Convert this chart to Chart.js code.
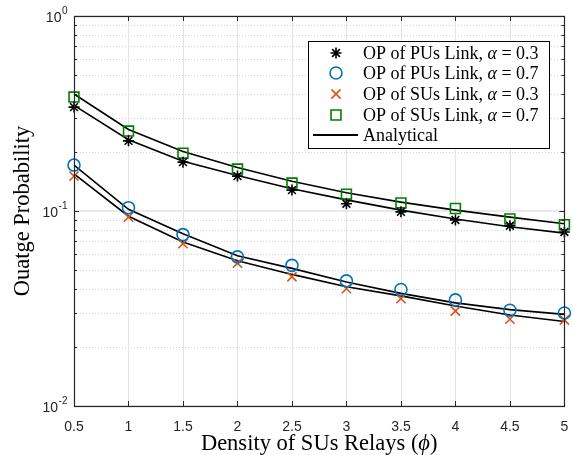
<!DOCTYPE html>
<html>
<head>
<meta charset="utf-8">
<script src="https://cdn.jsdelivr.net/npm/chart.js@4"></script>
<style>
  html, body { margin: 0; padding: 0; background: #fff; }
  #wrap { width: 573px; height: 455px; }
</style>
</head>
<body>
<div id="wrap"><canvas id="op" width="573" height="455"></canvas></div>
<script>
// Relay density (phi) sampled at these points
const phi = [0.5, 1, 1.5, 2, 2.5, 3, 3.5, 4, 4.5, 5]
const xTickLabels = ["0.5", "1", "1.5", "2", "2.5", "3", "3.5", "4", "4.5", "5"]
const yDecades = [0.01, 0.1, 1]
const yDecadeExp = ["-2", "-1", "0"]

// Simulated outage probability (markers)
const simPU03 = [0.341, 0.229, 0.178, 0.151, 0.128, 0.109, 0.099, 0.090, 0.084, 0.078]
const simPU07 = [0.172, 0.104, 0.0757, 0.0582, 0.0526, 0.0438, 0.0396, 0.0350, 0.0310, 0.0300]
const simSU03 = [0.151, 0.093, 0.068, 0.054, 0.046, 0.040, 0.0355, 0.0307, 0.0279, 0.0276]
const simSU07 = [0.384, 0.257, 0.198, 0.164, 0.139, 0.122, 0.110, 0.103, 0.091, 0.085]

// Analytical curves
const anaPU03 = [0.348, 0.232, 0.180, 0.152, 0.130, 0.114, 0.101, 0.091, 0.083, 0.077]
const anaPU07 = [0.172, 0.102, 0.0765, 0.059, 0.0508, 0.0432, 0.0378, 0.0338, 0.0312, 0.0295]
const anaSU03 = [0.155, 0.094, 0.0694, 0.0556, 0.0473, 0.0409, 0.0367, 0.0326, 0.0293, 0.0271]
const anaSU07 = [0.398, 0.262, 0.202, 0.167, 0.142, 0.124, 0.111, 0.101, 0.093, 0.086]

const pts = ys => phi.map((x, i) => ({ x, y: ys[i] }))

const BLUE = "#0072BD"
const ORANGE = "#D95319"
const GREEN = "#008000"
const AXIS = "#262626"
const SANS = "Liberation Sans, Arial, sans-serif"
const SERIF = "Liberation Serif, DejaVu Serif, serif"

const legendItems = [
  { label: "OP of PUs Link, ", a: "0.3", style: "star", color: "#000", r: 5.5 },
  { label: "OP of PUs Link, ", a: "0.7", style: "circle", color: BLUE, r: 6 },
  { label: "OP of SUs Link, ", a: "0.3", style: "crossRot", color: ORANGE, r: 6.5 },
  { label: "OP of SUs Link, ", a: "0.7", style: "rect", color: GREEN, r: 7 }
]

function markerSet(label, data, item) {
  return {
    label, data: pts(data), showLine: false,
    pointStyle: item.style, pointRadius: item.r, pointHoverRadius: item.r,
    pointBorderColor: item.color, pointBackgroundColor: "transparent",
    pointBorderWidth: 1.6, clip: false
  }
}

function curve(label, data) {
  return {
    label, data: pts(data), showLine: true, borderColor: "#000",
    borderWidth: 1.6, pointRadius: 0, tension: 0, fill: false, clip: false
  }
}

// text made of plain / italic runs
function runsWidth(ctx, runs, size, family) {
  let w = 0
  runs.forEach(r => {
    ctx.font = (r.it ? "italic " : "") + size + "px " + family
    w += ctx.measureText(r.t).width
  })
  return w
}
function drawRuns(ctx, runs, x, y, size, family) {
  runs.forEach(r => {
    ctx.font = (r.it ? "italic " : "") + size + "px " + family
    ctx.fillText(r.t, x, y)
    x += ctx.measureText(r.t).width
  })
}

const axesPlugin = {
  id: "matlabAxes",
  beforeDatasetsDraw(chart) {
    const { ctx, chartArea: a, scales: { x, y } } = chart
    ctx.save()
    // minor y grid (dotted)
    ctx.strokeStyle = "#d4d4d4"
    ctx.lineWidth = 1
    ctx.setLineDash([1, 2])
    yDecades.slice(0, -1).forEach(d => {
      for (let m = 2; m <= 9; m++) {
        const py = Math.round(y.getPixelForValue(d * m)) + 0.5
        ctx.beginPath(); ctx.moveTo(a.left, py); ctx.lineTo(a.right, py); ctx.stroke()
      }
    })
    ctx.setLineDash([])
    ctx.strokeStyle = "#e3e3e3"
    phi.forEach(v => {
      const px = Math.round(x.getPixelForValue(v)) + 0.5
      ctx.beginPath(); ctx.moveTo(px, a.top); ctx.lineTo(px, a.bottom); ctx.stroke()
    })
    ctx.lineWidth = 1.5
    yDecades.forEach(d => {
      const py = Math.round(y.getPixelForValue(d))
      ctx.beginPath(); ctx.moveTo(a.left, py); ctx.lineTo(a.right, py); ctx.stroke()
    })
    ctx.restore()
  },
  afterDatasetsDraw(chart) {
    const { ctx, chartArea: a, scales: { x, y } } = chart
    ctx.save()
    ctx.strokeStyle = AXIS
    ctx.lineWidth = 1
    // inside ticks on all four sides
    phi.forEach(v => {
      const px = Math.round(x.getPixelForValue(v)) + 0.5
      ctx.beginPath()
      ctx.moveTo(px, a.bottom); ctx.lineTo(px, a.bottom - 5)
      ctx.moveTo(px, a.top); ctx.lineTo(px, a.top + 5)
      ctx.stroke()
    })
    yDecades.forEach((d, k) => {
      const py = Math.round(y.getPixelForValue(d)) + 0.5
      ctx.beginPath()
      ctx.moveTo(a.left, py); ctx.lineTo(a.left + 5, py)
      ctx.moveTo(a.right, py); ctx.lineTo(a.right - 5, py)
      ctx.stroke()
      if (k < yDecades.length - 1) {
        for (let m = 2; m <= 9; m++) {
          const q = Math.round(y.getPixelForValue(d * m)) + 0.5
          ctx.beginPath()
          ctx.moveTo(a.left, q); ctx.lineTo(a.left + 3, q)
          ctx.moveTo(a.right, q); ctx.lineTo(a.right - 3, q)
          ctx.stroke()
        }
      }
    })
    // axes box
    ctx.lineWidth = 1.2
    ctx.strokeRect(Math.round(a.left) + 0.5, Math.round(a.top) + 0.5,
      Math.round(a.right - a.left), Math.round(a.bottom - a.top))

    // tick labels
    ctx.fillStyle = AXIS
    ctx.font = "14px " + SANS
    ctx.textAlign = "center"
    ctx.textBaseline = "middle"
    phi.forEach((v, i) => ctx.fillText(xTickLabels[i], x.getPixelForValue(v), a.bottom + 21))
    ctx.textAlign = "left"
    yDecades.forEach((d, i) => {
      const py = y.getPixelForValue(d)
      ctx.font = "10px " + SANS
      const ew = ctx.measureText(yDecadeExp[i]).width
      ctx.font = "14px " + SANS
      const bw = ctx.measureText("10").width
      const x0 = a.left - 7 - ew - bw
      ctx.fillText("10", x0, py + 2)
      ctx.font = "10px " + SANS
      ctx.fillText(yDecadeExp[i], x0 + bw + 0.5, py - 5)
    })

    // axis titles
    ctx.fillStyle = "#000"
    ctx.textBaseline = "alphabetic"
    const xt = [{ t: "Density of SUs Relays (" }, { t: "ϕ", it: true }, { t: ")" }]
    const xw = runsWidth(ctx, xt, 22.5, SERIF)
    drawRuns(ctx, xt, (a.left + a.right) / 2 - xw / 2, 450, 22.5, SERIF)
    ctx.save()
    ctx.translate(29, (a.top + a.bottom) / 2)
    ctx.rotate(-Math.PI / 2)
    ctx.textAlign = "center"
    ctx.font = "22.5px " + SERIF
    ctx.fillText("Ouatge Probability", 0, 0)
    ctx.restore()

    // legend
    const L = { left: 308, top: 41, right: 549, bottom: 148 }
    ctx.fillStyle = "#fff"
    ctx.fillRect(L.left, L.top, L.right - L.left, L.bottom - L.top)
    ctx.strokeStyle = "#000"
    ctx.lineWidth = 1
    ctx.strokeRect(L.left + 0.5, L.top + 0.5, L.right - L.left, L.bottom - L.top)
    const rowY = [53, 73, 94, 115, 135]
    ctx.textBaseline = "middle"
    legendItems.forEach((it, i) => {
      ctx.save()
      ctx.strokeStyle = it.color
      ctx.fillStyle = "rgba(0,0,0,0)"
      ctx.lineWidth = 1.6
      Chart.helpers.drawPoint(ctx, { pointStyle: it.style, radius: it.r, borderWidth: 1.6, rotation: 0 }, 336, rowY[i])
      ctx.restore()
      ctx.fillStyle = "#000"
      drawRuns(ctx, [{ t: it.label }, { t: "α", it: true }, { t: " = " + it.a }], 363, rowY[i] + 1, 18, SERIF)
    })
    ctx.strokeStyle = "#000"
    ctx.lineWidth = 1.8
    ctx.beginPath(); ctx.moveTo(313, rowY[4]); ctx.lineTo(358, rowY[4]); ctx.stroke()
    ctx.fillStyle = "#000"
    drawRuns(ctx, [{ t: "Analytical" }], 363, rowY[4] + 1, 18, SERIF)
    ctx.restore()
  }
}

new Chart(document.getElementById("op"), {
  type: "line",
  data: {
    datasets: [
      markerSet("OP of PUs Link, α = 0.3", simPU03, legendItems[0]),
      markerSet("OP of PUs Link, α = 0.7", simPU07, legendItems[1]),
      markerSet("OP of SUs Link, α = 0.3", simSU03, legendItems[2]),
      markerSet("OP of SUs Link, α = 0.7", simSU07, legendItems[3]),
      curve("Analytical", anaPU03),
      curve("Analytical PU 0.7", anaPU07),
      curve("Analytical SU 0.3", anaSU03),
      curve("Analytical SU 0.7", anaSU07)
    ]
  },
  options: {
    responsive: false,
    animation: false,
    layout: { padding: { left: 74, top: 16, right: 4, bottom: 49 } },
    plugins: { legend: { display: false }, tooltip: { enabled: false } },
    scales: {
      x: { type: "linear", min: 0.5, max: 5, display: false },
      y: { type: "logarithmic", min: 0.01, max: 1, display: false }
    }
  },
  plugins: [axesPlugin]
})
</script>
</body>
</html>
